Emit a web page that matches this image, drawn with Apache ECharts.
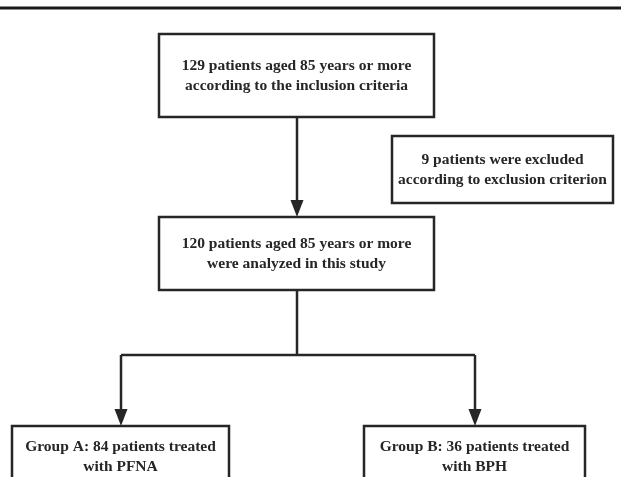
<!DOCTYPE html>
<html><head><meta charset="utf-8">
<script src="https://cdn.jsdelivr.net/npm/echarts@6/dist/echarts.min.js"></script>
<style>html,body{margin:0;padding:0;background:#fff}#c{width:621px;height:477px}</style>
</head><body><div id="c"></div>
<script>
// Flowchart content
const boxLabels = [
  "129 patients aged 85 years or more\naccording to the inclusion criteria",
  "9 patients were excluded\naccording to exclusion criterion",
  "120 patients aged 85 years or more\nwere analyzed in this study",
  "Group A: 84 patients treated\nwith PFNA",
  "Group B: 36 patients treated\nwith BPH"
];
// Layout (diagram units = page pixels)
const boxLeft   = [159, 392, 159, 12, 364];
const boxTop    = [34, 136, 217, 426, 426];
const boxRight  = [434, 613, 434, 229, 585];
const boxBottom = [117, 203, 290, 488, 488];
const connectors = [
  {pts: [[297, 117], [297, 217]], arrow: true},
  {pts: [[297, 290], [297, 355]], arrow: false},
  {pts: [[121, 355], [475, 355]], arrow: false},
  {pts: [[121, 355], [121, 426]], arrow: true},
  {pts: [[475, 355], [475, 426]], arrow: true}
];
const ruleLine = [[0, 8], [621, 8]];

const INK = '#262626';
const chart = echarts.init(document.getElementById('c'), null, {renderer: 'canvas'});

const boxData = boxLabels.map((t, i) => [boxLeft[i], boxTop[i], boxRight[i], boxBottom[i], i]);

chart.setOption({
  animation: false,
  grid: {left: 0, right: 0, top: 0, bottom: 0},
  xAxis: {type: 'value', min: 0, max: 621, show: false},
  yAxis: {type: 'value', min: 0, max: 477, inverse: true, show: false},
  series: [
    {
      type: 'custom',
      clip: false,
      data: boxData,
      renderItem: function (params, api) {
        const p0 = api.coord([api.value(0), api.value(1)]);
        const p1 = api.coord([api.value(2), api.value(3)]);
        const idx = api.value(4);
        return {
          type: 'group',
          children: [
            {type: 'rect', shape: {x: p0[0], y: p0[1], width: p1[0] - p0[0], height: p1[1] - p0[1]},
             style: {fill: '#fff', stroke: INK, lineWidth: 2.5}},
            {type: 'text', x: (p0[0] + p1[0]) / 2, y: (p0[1] + p1[1]) / 2,
             style: {text: boxLabels[idx], fill: INK, font: 'bold 15.5px "Liberation Serif", "Times New Roman", serif',
                     align: 'center', verticalAlign: 'middle', lineHeight: 20}}
          ]
        };
      }
    },
    {
      type: 'custom',
      data: connectors.map((c, i) => [i]),
      renderItem: function (params, api) {
        const c = connectors[api.value(0)];
        const pts = c.pts.map(p => api.coord(p));
        const children = [];
        let end = pts[pts.length - 1];
        let drawPts = pts.slice();
        if (c.arrow) {
          const prev = pts[pts.length - 2];
          const dx = end[0] - prev[0], dy = end[1] - prev[1];
          const len = Math.hypot(dx, dy); const ux = dx / len, uy = dy / len;
          const L = 17, W = 6.5;
          const base = [end[0] - ux * L, end[1] - uy * L];
          drawPts[drawPts.length - 1] = base;
          children.push({type: 'polygon', shape: {points: [end, [base[0] - uy * W, base[1] + ux * W], [base[0] + uy * W, base[1] - ux * W]]},
                         style: {fill: INK}});
        }
        children.unshift({type: 'polyline', shape: {points: drawPts}, style: {stroke: INK, lineWidth: 2.5, fill: null}});
        return {type: 'group', children};
      }
    },
    {
      type: 'line',
      data: ruleLine,
      symbol: 'none',
      lineStyle: {color: '#1a1a1a', width: 3},
      silent: true
    }
  ]
});
</script></body></html>
